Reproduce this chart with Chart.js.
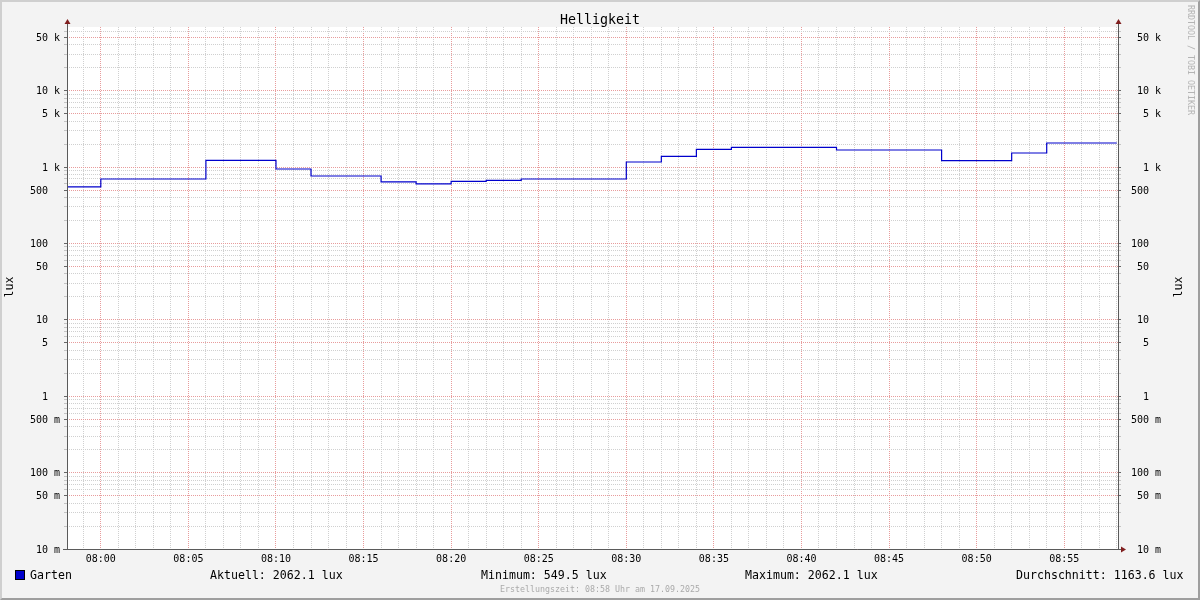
<!DOCTYPE html>
<html><head><meta charset="utf-8">
<script src="https://cdn.jsdelivr.net/npm/chart.js@4"></script>
<style>
html,body{margin:0;padding:0;background:#f3f3f3;}
#wrap{position:relative;width:1200px;height:600px;overflow:hidden;font-family:"DejaVu Sans Mono",monospace;color:#000;background:#f3f3f3;}
#frame{position:absolute;left:0;top:0;width:1200px;height:600px;box-sizing:border-box;border-top:2px solid #cfcfcf;border-left:2px solid #cfcfcf;border-right:2px solid #9e9e9e;border-bottom:2px solid #9e9e9e;pointer-events:none;}
canvas{position:absolute;left:0;top:0;}
.t{position:absolute;white-space:pre;line-height:1;}
</style></head>
<body>
<div id="wrap">
<canvas id="c" width="1200" height="600"></canvas>
<div class="t" style="left:600px;top:20px;transform:translate(-50%,-50%);font-size:13.3px;">Helligkeit</div>
<div class="t" style="left:10px;top:287px;transform:translate(-50%,-50%) rotate(-90deg);font-size:11.6px;">lux</div>
<div class="t" style="left:1179px;top:287px;transform:translate(-50%,-50%) rotate(-90deg);font-size:11.6px;">lux</div>
<div class="t" style="left:1191px;top:60px;transform:translate(-50%,-50%) rotate(90deg);font-size:8.3px;color:#b4b4b4;">RRDTOOL / TOBI OETIKER</div>
<div style="position:absolute;left:15px;top:570px;width:8px;height:8px;background:#0000cc;border:1px solid #000;"></div>
<div class="t" id="lg0" style="left:30px;top:576px;transform:translateY(-50%);font-size:11.6px;"></div>
<div class="t" id="lg1" style="left:210px;top:576px;transform:translateY(-50%);font-size:11.6px;"></div>
<div class="t" id="lg2" style="left:481px;top:576px;transform:translateY(-50%);font-size:11.6px;"></div>
<div class="t" id="lg3" style="left:745px;top:576px;transform:translateY(-50%);font-size:11.6px;"></div>
<div class="t" id="lg4" style="left:1016px;top:576px;transform:translateY(-50%);font-size:11.6px;"></div>
<div class="t" style="left:600px;top:589px;transform:translate(-50%,-50%);font-size:8.3px;color:#aaaaaa;">Erstellungszeit: 08:58 Uhr am 17.09.2025</div>
<div id="frame"></div>
</div>
<script>
// ---- data ----
const seriesName = "Garten";
const sampleTimes = ["07:58","08:00","08:02","08:04","08:06","08:08","08:10","08:12","08:14","08:16","08:18","08:20","08:22","08:24","08:26","08:28","08:30","08:32","08:34","08:36","08:38","08:40","08:42","08:44","08:46","08:48","08:50","08:52","08:54","08:56","08:58"];
const luxValues = [549.5,697,697,697,1220,1220,942,763,763,637,600,648,668,697,697,697,1162,1376,1699,1804,1804,1804,1669,1669,1669,1209,1209,1524,2062.1,2062.1,2062.1];
const legendTexts = ["Garten","Aktuell: 2062.1 lux","Minimum: 549.5 lux","Maximum: 2062.1 lux","Durchschnitt: 1163.6 lux"];
const xTickMinutes = [0,5,10,15,20,25,30,35,40,45,50,55];
const xTickLabels = ["08:00","08:05","08:10","08:15","08:20","08:25","08:30","08:35","08:40","08:45","08:50","08:55"];
const yMajorTicks = [0.01,0.05,0.1,0.5,1,5,10,50,100,500,1000,5000,10000,50000];
const yTickLabels = [" 10 m"," 50 m","100 m","500 m","  1  ","  5  "," 10  "," 50  ","100  ","500  ","  1 k","  5 k"," 10 k"," 50 k"];
const xMin = -1.93, xMax = 58.07;
const yMin = 0.01, yMax = 68000;

legendTexts.forEach((t,i)=>{document.getElementById('lg'+i).textContent=t;});

function toMin(s){const [h,m]=s.split(':').map(Number);return h*60+m-480;}
const points = [];
sampleTimes.forEach((t,i)=>{points.push({x:toMin(t),y:luxValues[i]});});

const MONO = "'DejaVu Sans Mono', monospace";
const minorCol = '#d0d0d0';
const majorCol = '#e89c9c';

function near(a,b){return Math.abs(a-b) <= Math.abs(b)*1e-6;}
function yMajorIndex(v){for(let i=0;i<yMajorTicks.length;i++){if(near(v,yMajorTicks[i]))return i;}return -1;}
function buildLogTicks(){
  const arr=[];
  for(let e=-2;e<=4;e++){
    for(let m=1;m<=9;m++){
      const v=+(m*Math.pow(10,e)).toPrecision(6);
      if(v>=yMin-1e-9 && v<=yMax) arr.push({value:v});
    }
  }
  return arr;
}
function yLabel(v){const i=yMajorIndex(v);return i>=0?yTickLabels[i]:'';}

const decor={
  id:'decor',
  beforeDraw(c){
    const {ctx,chartArea:a}=c;
    ctx.save();ctx.fillStyle='#ffffff';
    ctx.fillRect(a.left,a.top,a.right-a.left,a.bottom-a.top);
    ctx.restore();
  },
  afterDraw(c){
    const {ctx,chartArea:a}=c;
    const L=Math.round(a.left)+0.5, R=Math.round(a.right)+0.5, B=Math.round(a.bottom)+0.5;
    ctx.save();
    ctx.strokeStyle='#5a5a5a';ctx.lineWidth=1;
    ctx.beginPath();
    ctx.moveTo(L,a.top-5);ctx.lineTo(L,B);
    ctx.moveTo(R,a.top-5);ctx.lineTo(R,B);
    ctx.moveTo(a.left-4,B);ctx.lineTo(a.right+4,B);
    ctx.stroke();
    ctx.fillStyle='#801f1f';
    const up=(x)=>{ctx.beginPath();ctx.moveTo(x,a.top-8);ctx.lineTo(x-3,a.top-3);ctx.lineTo(x+3,a.top-3);ctx.closePath();ctx.fill();};
    up(L);up(R);
    ctx.beginPath();ctx.moveTo(a.right+8,B);ctx.lineTo(a.right+3,B-3);ctx.lineTo(a.right+3,B+3);ctx.closePath();ctx.fill();
    ctx.restore();
  }
};

const yCommon = {
  type:'logarithmic', min:yMin, max:yMax, bounds:'data',
  afterBuildTicks(s){s.ticks=buildLogTicks();},
  border:{display:false,dash:[1,1]},
  ticks:{autoSkip:false,labelOffset:1,color:'#000',font:{family:MONO,size:10},callback:(v)=>yLabel(v)}
};
const tickCol=(ctx)=>yMajorIndex(ctx.tick.value)>=0?'#666666':'#c4c4c4';

new Chart(document.getElementById('c'),{
  type:'line',
  data:{datasets:[{label:seriesName,data:points,borderColor:'#0000cc',borderWidth:1.2,stepped:'before',pointRadius:0,fill:false,tension:0}]},
  options:{
    responsive:false,animation:false,devicePixelRatio:1,
    layout:{padding:{top:27,bottom:31,left:0,right:0}},
    plugins:{legend:{display:false},tooltip:{enabled:false},title:{display:false}},
    scales:{
      x:{type:'linear',min:xMin,max:xMax,bounds:'data',
        afterBuildTicks(s){const arr=[];for(let m=Math.ceil(xMin);m<=xMax;m++)arr.push({value:m});s.ticks=arr;},
        afterFit(s){s.height=20;},
        grid:{drawTicks:false,lineWidth:1,color:(ctx)=>{const v=ctx.tick&&ctx.tick.value;return xTickMinutes.includes(v)?majorCol:minorCol;}},
        border:{display:false,dash:[1,1]},
        ticks:{autoSkip:false,maxRotation:0,minRotation:0,padding:4,color:'#000',font:{family:MONO,size:10},
          callback:(v)=>{const i=xTickMinutes.indexOf(v);return i>=0?xTickLabels[i]:'';}}
      },
      y:Object.assign({},yCommon,{position:'left',
        afterFit(s){s.width=67;},
        grid:{drawTicks:true,tickLength:3,lineWidth:1,
          color:(ctx)=>yMajorIndex(ctx.tick.value)>=0?majorCol:minorCol,
          tickColor:tickCol},
        ticks:Object.assign({},yCommon.ticks,{padding:4})
      }),
      y2:Object.assign({},yCommon,{position:'right',
        afterFit(s){s.width=82;},
        grid:{drawOnChartArea:false,drawTicks:true,tickLength:3,lineWidth:1,tickColor:tickCol},
        ticks:Object.assign({},yCommon.ticks,{padding:10})
      })
    }
  },
  plugins:[decor]
});
</script>
</body></html>
